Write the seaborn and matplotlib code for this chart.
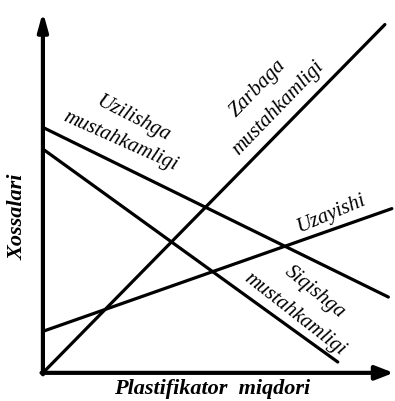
import matplotlib
matplotlib.use("Agg")
import matplotlib.pyplot as plt
import seaborn as sns
import pandas as pd

# Property curves versus plasticizer content (schematic, arbitrary units)
series_names = ["Zarbaga mustahkamligi", "Uzilishga mustahkamligi",
                "Siqishga mustahkamligi", "Uzayishi"]
x_start = [0, 0, 0, 0]
x_end = [98, 99, 84.5, 100]
y_start = [0, 68, 62, 11.5]
y_end = [96.5, 21, 3, 45.5]

x_label = "Plastifikator  miqdori"
y_label = "Xossalari"

rows = []
for name, x0, x1, y0, y1 in zip(series_names, x_start, x_end, y_start, y_end):
    rows.append({"series": name, "x": x0, "y": y0})
    rows.append({"series": name, "x": x1, "y": y1})
df = pd.DataFrame(rows)

sns.set_theme(style="white")
plt.rcParams["font.family"] = ["Liberation Serif", "DejaVu Serif"]
plt.rcParams["text.color"] = "black"

fig = plt.figure(figsize=(3.95, 4.01), dpi=100)
ax = fig.add_axes([0, 0, 1, 1])

sns.lineplot(data=df, x="x", y="y", hue="series",
             palette=["black"] * len(series_names), legend=False,
             linewidth=2.3, ax=ax, estimator=None, sort=False)

ax.set_xlim(-12.3, 100.9)
ax.set_ylim(-7.8, 103.3)
ax.axis("off")

# Axes drawn as arrows
ax.annotate("", xy=(100.5, 0), xytext=(-0.4, 0),
            arrowprops=dict(arrowstyle="-|>,head_length=0.9,head_width=0.35",
                            color="black", lw=3, shrinkA=0, shrinkB=0))
ax.annotate("", xy=(0, 100), xytext=(0, -0.4),
            arrowprops=dict(arrowstyle="-|>,head_length=0.9,head_width=0.25",
                            color="black", lw=3, shrinkA=0, shrinkB=0))

ax.text(48.5, -4.5, x_label, ha="center", va="center", fontsize=16,
        style="italic", fontweight="bold", color="black")
ax.text(-7.2, 43.2, y_label, ha="center", va="center", fontsize=16,
        style="italic", fontweight="bold", rotation=90, color="black")

lbl = dict(ha="center", va="center", fontsize=15, style="italic",
           color="black")
ax.text(25.8, 70.4, "Uzilishga", rotation=-27, **lbl)
ax.text(22.3, 64.0, "mustahkamligi", rotation=-24, **lbl)
ax.text(61.6, 78.9, "Zarbaga", rotation=46, **lbl)
ax.text(67.3, 73.4, "mustahkamligi", rotation=46, **lbl)
ax.text(82.5, 44.0, "Uzayishi", rotation=23, **lbl)
ax.text(77.9, 22.4, "Siqishga", rotation=-39, **lbl)
ax.text(72.2, 16.3, "mustahkamligi", rotation=-38, **lbl)

fig.savefig("out.png", dpi=100)
